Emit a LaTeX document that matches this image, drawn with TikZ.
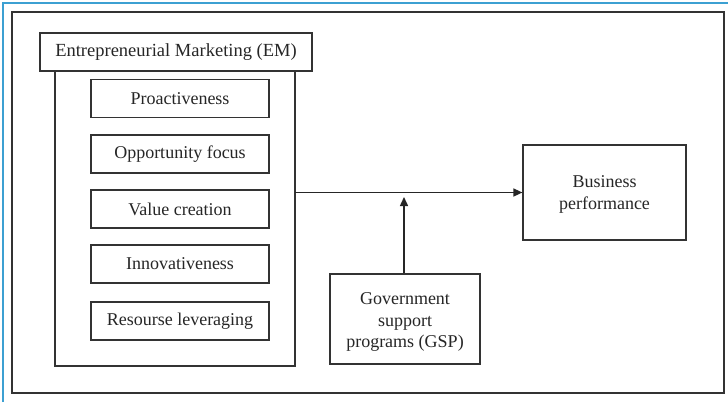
\documentclass[tikz,border=0pt]{standalone}
\usepackage{fontspec}
\setmainfont{Liberation Serif}
\usetikzlibrary{arrows.meta}
\begin{document}
\begin{tikzpicture}[x=1pt,y=-1pt,
  frame/.style={draw=black!80,line width=1.4pt},
  box/.style={draw=black!80,line width=1.2pt,fill=white},
  lbl/.style={font=\fontsize{18}{21.5}\selectfont,align=center,text=black!85},
  link/.style={draw=black!85,line width=1.5pt,-{Triangle[length=9pt,width=8pt]}}]
\useasboundingbox (0,0) rectangle (728,402);
\fill[white] (0,0) rectangle (728,402);
% page edge lines
\draw[color={rgb,255:red,60;green,160;blue,210},line width=1.6pt] (3,402) -- (3,3) -- (728,3);
% outer frame
\draw[frame] (12,12) rectangle (724,393);
% EM container and heading
\draw[box,line width=1.6pt] (55,71) rectangle (295,366);
\node[box,minimum width=272pt,minimum height=38pt,inner sep=0pt] (em) at (176,52) {};
\node[lbl,font=\fontsize{18.5}{21}\selectfont] at (em.center) {Entrepreneurial Marketing (EM)};
% dimension boxes
\foreach \t/\y/\n in {Proactiveness/98.5/d1,Opportunity focus/154/d2,Value creation/209/d3,Innovativeness/264/d4,Resourse leveraging/321/d5}{
  \node[box,minimum width=178pt,minimum height=38pt,inner sep=0pt] (\n) at (180,\y) {};
  \node[lbl] at (\n.center) {\t};
}
\coordinate (emr) at (295,192.5);
% outcome and moderator
\node[box,minimum width=163pt,minimum height=95pt,inner sep=0pt] (bp) at (604.5,192.5) {};
\node[lbl] at ([yshift=-2pt]bp.center) {Business\\performance};
\node[box,minimum width=150pt,minimum height=90pt,inner sep=0pt] (gsp) at (405,319) {};
\node[lbl] at ([yshift=-3pt]gsp.center) {Government\\support\\programs (GSP)};
\coordinate (mid) at (404,197);
% connectors
\draw[link] (emr) -- (bp.west);
\draw[link] (gsp.north -| mid) -- (mid);
\end{tikzpicture}
\end{document}
